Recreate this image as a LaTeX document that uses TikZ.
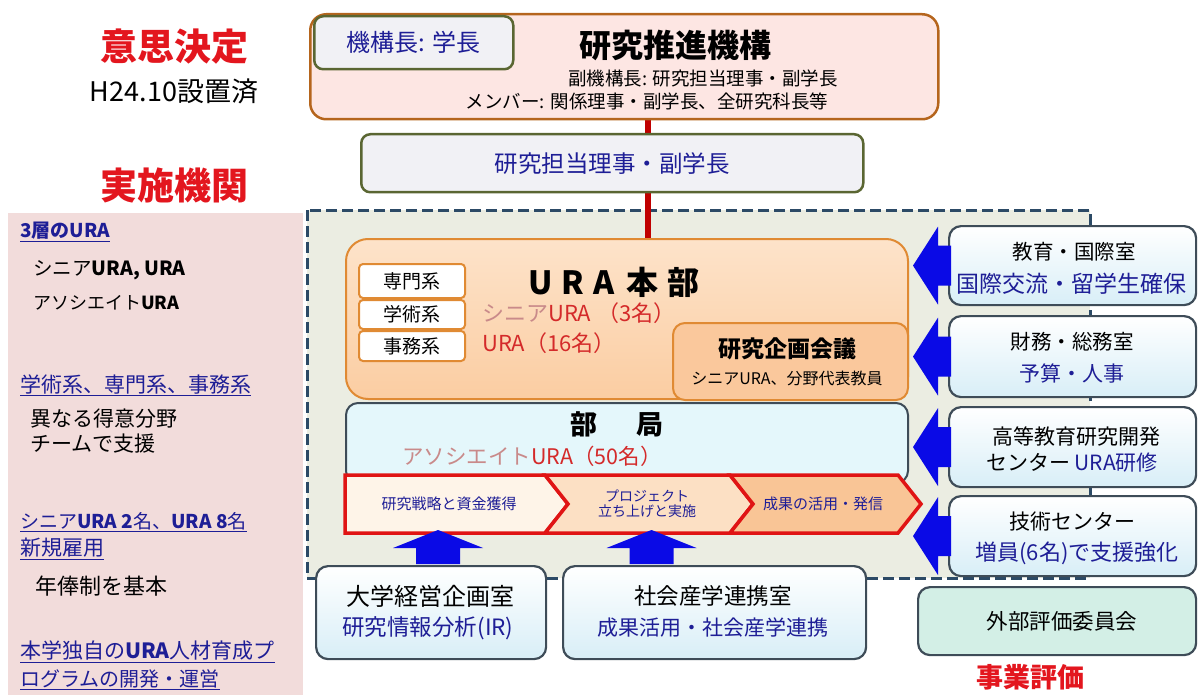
\documentclass[tikz,border=0pt]{standalone}
\usepackage{fontspec}
\setmainfont{Noto Sans CJK JP}
\usetikzlibrary{calc}
\definecolor{navy}{HTML}{1E1E96}
\definecolor{tred}{HTML}{E3161E}
\definecolor{redtxt}{HTML}{D42A2A}
\definecolor{pinkt}{HTML}{C98A8A}
\definecolor{oliveb}{HTML}{5A6632}
\definecolor{boxgray}{HTML}{F1F1F5}
\definecolor{topfill}{HTML}{FDE6E3}
\definecolor{topborder}{HTML}{B5651D}
\definecolor{orangeb}{HTML}{E08A33}
\definecolor{uratop}{HTML}{FDE3CA}
\definecolor{urabot}{HTML}{FBCDA2}
\definecolor{kikakuf}{HTML}{FAC89C}
\definecolor{bukyokuf}{HTML}{E4F7FB}
\definecolor{slate}{HTML}{3E4C58}
\definecolor{dashc}{HTML}{2C4A66}
\definecolor{zonef}{HTML}{EBEDE2}
\definecolor{leftf}{HTML}{F2DCDB}
\definecolor{cyanf}{HTML}{D8EEF7}
\definecolor{tealf}{HTML}{D3EFE6}
\definecolor{arrowb}{HTML}{0A0AE6}
\definecolor{chevr}{HTML}{E01414}
\definecolor{chevA}{HTML}{FEF4E8}
\definecolor{chevB}{HTML}{FCE0C4}
\definecolor{chevC}{HTML}{F9C596}
\definecolor{darkred}{HTML}{C00000}
\newcommand\fsz[1]{\fontsize{#1}{#1}\selectfont}
\newcommand\leftblk[1]{\fill[arrowb] ($(#1.west)+(3,-20)$) -- ($(#1.west)+(-10,-20)$) -- ($(#1.west)+(-10,-39)$) -- ($(#1.west)+(-35,0)$) -- ($(#1.west)+(-10,39)$) -- ($(#1.west)+(-10,20)$) -- ($(#1.west)+(3,20)$) -- cycle;}
\newcommand\upblk[2]{\fill[arrowb] ($(#1.north)+(#2-22,-1)$) -- ($(#1.north)+(#2-22,-17)$) -- ($(#1.north)+(#2-45,-17)$) -- ($(#1.north)+(#2,-35)$) -- ($(#1.north)+(#2+45,-17)$) -- ($(#1.north)+(#2+22,-17)$) -- ($(#1.north)+(#2+22,-1)$) -- cycle;}
\begin{document}
\begin{tikzpicture}[x=1pt,y=-1pt,
  base/.style={anchor=north west, inner sep=0pt},
  olivebox/.style={base, draw=oliveb, line width=2.5pt, fill=boxgray, rounded corners=9pt},
  topbox/.style={base, draw=topborder, line width=2.5pt, fill=topfill, rounded corners=16pt},
  urabox/.style={base, draw=orangeb, line width=2pt, top color=uratop, bottom color=urabot, rounded corners=22pt},
  smallbox/.style={base, draw=orangeb, line width=2pt, fill=white, rounded corners=4pt},
  kikakubox/.style={base, draw=orangeb, line width=2pt, fill=kikakuf, rounded corners=12pt},
  bukyokubox/.style={base, draw=slate, line width=2pt, fill=bukyokuf, rounded corners=12pt},
  cbox/.style={base, draw=slate, line width=2.2pt, top color=white, bottom color=cyanf, rounded corners=12pt},
  evalbox/.style={base, draw=slate, line width=2.2pt, fill=tealf, rounded corners=12pt},
  lbl/.style={inner sep=0pt, text=black},
  blu/.style={lbl, text=navy},
  lft/.style={lbl, anchor=west},
  ttl/.style={lbl, text=tred, font=\bfseries\fsz{37}},
  chev/.style={draw=chevr, line width=3.5pt, line join=miter},
  redline/.style={draw=darkred, line width=6pt}
]
\useasboundingbox (0,0) rectangle (1201,695);
% left panel
\fill[leftf] (8,213) rectangle (303,695);
% dashed zone
\draw[dashc, line width=3pt, dash pattern=on 11pt off 5pt, fill=zonef] (307,210) rectangle (1090,578);
% red line
\coordinate (r1) at (648,118);
\coordinate (r2) at (648,240);
\draw[redline] (r1) -- (r2);

% titles
\node[ttl] (t1) at (174,47) {意思決定};
\node[lbl, font=\fsz{27}] (t2) at (174,91) {H24.10設置済};
\node[ttl] (t3) at (174,185) {実施機関};
\node[ttl, font=\bfseries\fsz{27}] (t4) at (1030,677) {事業評価};

% top box
\node[topbox, minimum width=628pt, minimum height=105pt] (top) at (309,13) {};
\node[olivebox, minimum width=199pt, minimum height=53pt] (kiko) at (313,15) {};
\node[blu, font=\fsz{24}] (kikoT) at (kiko.center) {機構長: 学長};
\node[lbl, font=\bfseries\fsz{32}] (topT) at (675,45) {研究推進機構};
\node[lbl, font=\fsz{18.5}] (topA) at (703,78) {副機構長: 研究担当理事・副学長};
\node[lbl, font=\fsz{18.5}] (topB) at (647,101) {メンバー: 関係理事・副学長、全研究科長等};

% riji box
\node[olivebox, minimum width=502pt, minimum height=58pt] (riji) at (360,133) {};
\node[blu, font=\fsz{23.5}] (rijiT) at (riji.center) {研究担当理事・副学長};

% URA honbu
\node[urabox, minimum width=562pt, minimum height=160pt] (ura) at (345,238) {};
\node[smallbox, minimum width=106pt, minimum height=34pt] (s1) at (358,263) {};
\node[smallbox, minimum width=106pt, minimum height=29pt] (s2) at (358,299) {};
\node[smallbox, minimum width=106pt, minimum height=30pt] (s3) at (358,330) {};
\node[lbl, font=\fsz{19}] (s1T) at (s1.center) {専門系};
\node[lbl, font=\fsz{19}] (s2T) at (s2.center) {学術系};
\node[lbl, font=\fsz{19}] (s3T) at (s3.center) {事務系};
\node[lbl, font=\bfseries\fsz{32}] (uraT) at (614,282) {U\hspace{9pt}R\hspace{9pt}A\hspace{12pt}本\hspace{9pt}部};
\node[lft, font=\fsz{22}] (uraA) at (482,313) {{\color{pinkt}シニア}{\color{redtxt}URA\hspace{6pt}（3名）}};
\node[lft, font=\fsz{22}] (uraB) at (482,343) {\color{redtxt}URA（16名）};
\node[kikakubox, minimum width=235pt, minimum height=77pt] (kikaku) at (672,322) {};
\node[lbl, font=\bfseries\fsz{23}] (kikakuT) at (787,349) {研究企画会議};
\node[lbl, font=\fsz{16}] (kikakuS) at (787,378) {シニアURA、分野代表教員};

% bukyoku
\node[bukyokubox, minimum width=562pt, minimum height=80pt] (bukyoku) at (345,402) {};
\node[lbl, font=\bfseries\fsz{27}] (bukyokuT) at (617,424) {部\hspace{40pt}局};
\node[lbl, font=\fsz{21.5}] (bukyokuS) at (532,456) {{\color{pinkt}アソシエイト}{\color{redtxt}URA（50名）}};

% chevrons
\draw[chev, fill=chevA] (345,475) -- (545,475) -- (568,504) -- (545,533) -- (345,533) -- cycle;
\draw[chev, fill=chevB] (545,475) -- (730,475) -- (753,504) -- (730,533) -- (545,533) -- (568,504) -- cycle;
\draw[chev, fill=chevC] (730,475) -- (898,475) -- (921,504) -- (898,533) -- (730,533) -- (753,504) -- cycle;
\node[blu, font=\fsz{15}] (c1) at (449,504) {研究戦略と資金獲得};
\node[blu, font=\fsz{14}, align=center] (c2) at (647,504) {プロジェクト\\[1pt]立ち上げと実施};
\node[blu, font=\fsz{15}] (c3) at (823,504) {成果の活用・発信};

% bottom boxes
\node[cbox, minimum width=230pt, minimum height=93pt] (keiei) at (315,565) {};
\node[lbl, font=\fsz{24}] (keieiT) at (430,596) {大学経営企画室};
\node[blu, font=\fsz{22.5}] (keieiS) at (428,628) {研究情報分析(IR)};
\node[cbox, minimum width=303pt, minimum height=93pt] (shakai) at (562,565) {};
\node[lbl, font=\fsz{22.5}] (shakaiT) at (713,596) {社会産学連携室};
\node[blu, font=\fsz{21}] (shakaiS) at (713,628) {成果活用・社会産学連携};
\upblk{keiei}{7}
\upblk{shakai}{-63}

% right boxes
\node[cbox, minimum width=247pt, minimum height=79pt] (kyoiku) at (948,225) {};
\node[lbl, font=\fsz{20.5}] (kyoikuT) at (1074,252) {教育・国際室};
\node[blu, font=\fsz{23}] (kyoikuS) at (1071,284) {国際交流・留学生確保};
\node[cbox, minimum width=247pt, minimum height=81pt] (zaimu) at (948,315) {};
\node[lbl, font=\fsz{20.5}] (zaimuT) at (1072,342) {財務・総務室};
\node[blu, font=\fsz{21}] (zaimuS) at (1072,373) {予算・人事};
\node[cbox, minimum width=247pt, minimum height=80pt] (koto) at (948,406) {};
\node[lbl, font=\fsz{21}] (kotoT) at (1076,437) {高等教育研究開発};
\node[lbl, font=\fsz{21}] (kotoS) at (1072,463) {センター {\color{navy}URA研修}};
\node[cbox, minimum width=247pt, minimum height=80pt] (gijutsu) at (948,495) {};
\node[lbl, font=\fsz{21}] (gijutsuT) at (1072,522) {技術センター};
\node[blu, font=\fsz{22}] (gijutsuS) at (1077,553) {増員(6名)で支援強化};
\node[evalbox, minimum width=278pt, minimum height=68pt] (hyoka) at (917,586) {};
\node[lbl, font=\fsz{21.5}] (hyokaT) at (1062,621) {外部評価委員会};
\leftblk{kyoiku}
\leftblk{zaimu}
\leftblk{koto}
\leftblk{gijutsu}

% left panel texts
\node[lft, text=navy, font=\bfseries\fsz{19}] (l1) at (20,232) {\underline{3層のURA}};
\node[lft, font=\fsz{19.5}] (l2) at (33,270) {シニア\textbf{URA, URA}};
\node[lft, font=\fsz{18}] (l3) at (33,303) {アソシエイト\textbf{URA}};
\node[lft, text=navy, font=\fsz{21}] (l4) at (20,385) {\underline{学術系、専門系、事務系}};
\node[lft, font=\fsz{21}] (l5) at (30,419) {異なる得意分野};
\node[lft, font=\fsz{21}] (l6) at (30,444) {チームで支援};
\node[lft, text=navy, font=\fsz{19}] (l7) at (20,522) {\underline{シニア\textbf{URA 2}名、\textbf{URA 8}名}};
\node[lft, text=navy, font=\fsz{21}] (l8) at (20,549) {\underline{新規雇用}};
\node[lft, font=\fsz{22}] (l9) at (35,586) {年俸制を基本};
\node[lft, text=navy, font=\fsz{21}] (l10) at (20,652) {\underline{本学独自の\textbf{URA}人材育成プ}};
\node[lft, text=navy, font=\fsz{20}] (l11) at (20,680) {\underline{ログラムの開発・運営}};
\end{tikzpicture}
\end{document}
